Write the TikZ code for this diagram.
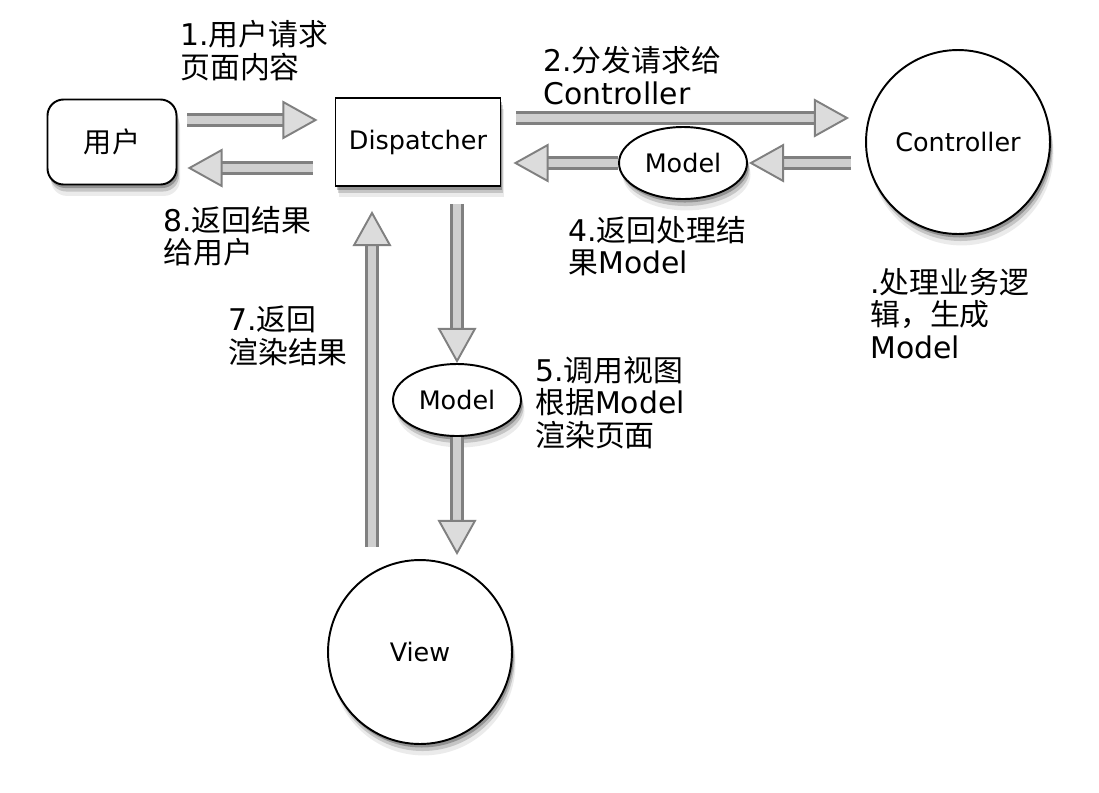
\documentclass[tikz,border=0pt]{standalone}
\usepackage{fontspec}
\setmainfont{DejaVu Sans}
\newfontfamily\cjk{Noto Sans CJK SC}
\usetikzlibrary{arrows.meta,calc,shapes.geometric,shadows}
\newcommand{\lat}[1]{{\rmfamily #1}}
\definecolor{pipeedge}{HTML}{808080}
\definecolor{pipefill}{HTML}{CFCFCF}
\definecolor{tipfill}{HTML}{DCDCDC}

\tikzstyle{softshadow} = [drop shadow={shadow xshift=1pt, shadow yshift=-2pt, opacity=0.25, fill=black},
  drop shadow={shadow xshift=1.5pt, shadow yshift=-4pt, opacity=0.16, fill=black},
  drop shadow={shadow xshift=2pt, shadow yshift=-6.5pt, opacity=0.08, fill=black}]
\tikzstyle{custnode} = [draw=black, line width=1.1pt, fill=white, softshadow, inner sep=0pt, font=\fontsize{14.5}{16}\selectfont]
\tikzstyle{custblock} = [custnode, rectangle, minimum width=3.3cm, minimum height=1.76cm]
\tikzstyle{custround} = [custnode, rectangle, rounded corners=0.32cm, minimum width=2.58cm, minimum height=1.7cm]
\tikzstyle{custcircle} = [custnode, circle, minimum size=3.68cm]
\tikzstyle{custmodel} = [custnode, ellipse, minimum width=2.56cm, minimum height=1.44cm]
\tikzstyle{steplabel} = [anchor=north west, inner sep=0pt, align=left, font=\cjk\fontsize{17}{18.5}\selectfont]
\tikzstyle{pipe} = [draw=pipeedge, line width=1.6pt, double=pipefill, double distance=4.8pt,
  -{Triangle[length=20pt, width=22pt, line width=1.1pt, fill=tipfill]}]

\begin{document}
\begin{tikzpicture}[x=0.02cm, y=-0.02cm]
\useasboundingbox (0,0) rectangle (1099,792);

%Custom blocks
\node (user) [custround, font=\cjk\fontsize{16}{18}\selectfont] at (112,142) {用户};
\node (disp) [custblock] at (418,142) {Dispatcher};
\node (ctrl) [custcircle] at (958,142) {Controller};
\node (modelA) [custmodel] at (683,163) {Model};
\node (modelB) [custmodel] at (457,400) {Model};
\node (view) [custcircle] at (420,652) {View};

%Labels
\node (lab1) [steplabel] at (180,20) {\lat{1.}用户请求\\页面内容};
\node (lab2) [steplabel] at (543,46) {\lat{2.}分发请求给\\\lat{Controller}};
\node (lab8) [steplabel] at (163,206) {\lat{8.}返回结果\\给用户};
\node (lab4) [steplabel] at (568,216) {\lat{4.}返回处理结\\果\lat{Model}};
\node (lab3) [steplabel] at (870,268) {\lat{.}处理业务逻\\辑，生成\\\lat{Model}};
\node (lab7) [steplabel] at (228,306) {\lat{7.}返回\\渲染结果};
\node (lab5) [steplabel] at (535,356) {\lat{5.}调用视图\\根据\lat{Model}\\渲染页面};

%Arrows
\draw [pipe] ($(user.east)+(10,-22)$) -- ($(disp.west)+(-17,-22)$);
\draw [pipe] ($(disp.west)+(-22,26)$) -- ($(user.east)+(10,26)$);
\draw [pipe] ($(disp.east)+(15,-24)$) -- ($(ctrl.west)+(-16,-24)$);
\draw [pipe] ($(ctrl.west |- modelA.east)+(-14,0)$) -- ($(modelA.east)+(1,0)$);
\draw [pipe] (modelA.west) -- ($(disp.east |- modelA.west)+(12,0)$);
\draw [pipe] ($(modelB.north |- disp.south)+(0,17)$) -- (modelB.north);
\draw [pipe] (modelB.south) -- ($(modelB.south |- view.north)+(0,-4)$);
\draw [pipe] ($(view.north)+(-48,-12)$) -- ($(disp.south -| view.north)+(-48,24)$);
\end{tikzpicture}
\end{document}
